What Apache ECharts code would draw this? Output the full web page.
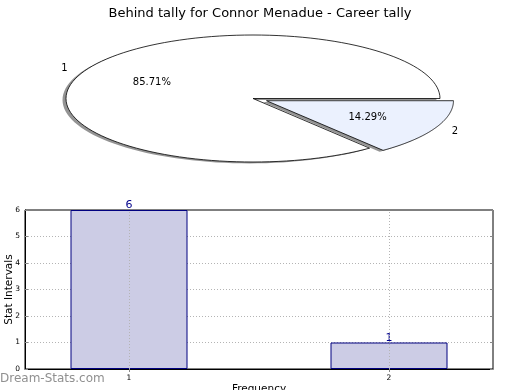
<!DOCTYPE html>
<html>
<head>
<meta charset="utf-8">
<script src="https://cdn.jsdelivr.net/npm/echarts@6/dist/echarts.min.js"></script>
<style>
html,body{margin:0;padding:0;background:#fff;}
#c{width:520px;height:390px;}
</style>
</head>
<body>
<div id="c"></div>
<script>
// ---- data ----
const chartTitle = 'Behind tally for Connor Menadue - Career tally';
const pieLabels = ['1', '2'];
const pieValues = [6, 1];
const barCategories = [1, 2];
const barValues = [6, 1];
const watermark = 'Dream-Stats.com';
const xAxisName = 'Frequency';
const yAxisName = 'Stat Intervals';

// ---- styles ----
const FONT = 'DejaVu Sans';
const sliceColors = ['#ffffff', '#ebf1fe'];
const explode = [0, 0.08];
const PIE = { cx: 253, cy: 98.5, rx: 187, ry: 63.5 };

const total = pieValues.reduce((a, b) => a + b, 0);

function renderSlice(params, api) {
  const i = params.dataIndex;
  const v = api.value(0);
  let before = 0;
  for (let k = 0; k < i; k++) before += pieValues[k];
  const a0 = before / total * Math.PI * 2;
  const a1 = (before + v) / total * Math.PI * 2;
  const mid = (a0 + a1) / 2;
  const ox = PIE.cx + explode[i] * PIE.rx * Math.cos(mid);
  const oy = PIE.cy - explode[i] * PIE.ry * Math.sin(mid);
  const pts = [[ox, oy]];
  const N = 120;
  for (let s = 0; s <= N; s++) {
    const a = a0 + (a1 - a0) * s / N;
    pts.push([ox + PIE.rx * Math.cos(a), oy - PIE.ry * Math.sin(a)]);
  }
  const shadowPts = pts.map(p => [p[0] - 3.5, p[1] + 1.4]);
  const c = Math.cos(mid), sn = Math.sin(mid);
  return {
    type: 'group',
    children: [
      { type: 'polygon', shape: { points: shadowPts }, style: { fill: 'rgba(0,0,0,0.42)' }, silent: true },
      { type: 'polygon', shape: { points: pts }, style: { fill: sliceColors[i], stroke: '#000', lineWidth: 0.8 } },
      { type: 'text', style: {
          x: ox + 1.1 * PIE.rx * c, y: oy - 1.1 * PIE.ry * sn,
          text: pieLabels[i], fill: '#000', font: '10px "' + FONT + '"',
          align: c > 0 ? 'left' : 'right', verticalAlign: 'middle' } },
      { type: 'text', style: {
          x: ox + 0.6 * PIE.rx * c, y: oy - 0.6 * PIE.ry * sn,
          text: (v / total * 100).toFixed(2) + '%', fill: '#000', font: '10px "' + FONT + '"',
          align: 'center', verticalAlign: 'middle' } }
    ]
  };
}

const chart = echarts.init(document.getElementById('c'), null, { renderer: 'canvas' });
const option = {
  animation: false,
  backgroundColor: '#fff',
  textStyle: { fontFamily: FONT },
  title: {
    text: chartTitle, left: 'center', top: 2,
    textStyle: { fontFamily: FONT, fontSize: 13, fontWeight: 'normal', color: '#000' }
  },
  graphic: [{
    type: 'text', left: 0, top: 373,
    style: { text: watermark, fill: '#909090', font: '12px "' + FONT + '"' }
  }],
  grid: {
    left: 25, right: 27, top: 210, bottom: 21,
    containLabel: false, outerBoundsMode: 'none',
    show: true, borderColor: '#000', borderWidth: 1, backgroundColor: 'transparent'
  },
  xAxis: [{
    type: 'value', min: 0.6, max: 2.4,
    name: xAxisName, nameLocation: 'middle', nameGap: 15, nameMoveOverlap: false,
    nameTextStyle: { fontFamily: FONT, fontSize: 10.5, color: '#000' },
    axisLine: { show: true, lineStyle: { color: '#000' } },
    axisTick: { show: true, inside: true, length: 3, customValues: barCategories, lineStyle: { color: '#888' } },
    axisLabel: { customValues: barCategories, fontSize: 7.5, color: '#000', margin: 5, fontFamily: FONT },
    splitLine: { show: false }
  }, {
    type: 'value', min: 0.6, max: 2.4, position: 'top',
    axisLine: { show: false },
    axisTick: { show: true, inside: true, length: 3, customValues: barCategories, lineStyle: { color: '#888' } },
    axisLabel: { show: false },
    splitLine: { show: false }
  }],
  yAxis: [{
    type: 'value', min: 0, max: 6, interval: 1,
    name: yAxisName, nameLocation: 'middle', nameGap: 10, nameRotate: 90, nameMoveOverlap: false,
    nameTextStyle: { fontFamily: FONT, fontSize: 10.5, color: '#000' },
    axisLine: { show: true, lineStyle: { color: '#000' } },
    axisTick: { show: true, inside: true, length: 3, lineStyle: { color: '#888' } },
    axisLabel: { fontSize: 7.5, color: '#000', margin: 5, fontFamily: FONT },
    splitLine: { show: true, showMinLine: false, showMaxLine: false,
      lineStyle: { color: '#b4b4b4', type: [1, 2], width: 1 } }
  }, {
    type: 'value', min: 0, max: 6, interval: 1, position: 'right',
    axisLine: { show: false },
    axisTick: { show: true, inside: true, length: 3, lineStyle: { color: '#888' } },
    axisLabel: { show: false },
    splitLine: { show: false }
  }],
  series: [{
    type: 'custom',
    coordinateSystem: 'none',
    renderItem: renderSlice,
    data: pieValues.map(v => [v]),
    z: 5
  }, {
    type: 'bar',
    xAxisIndex: 0, yAxisIndex: 0,
    data: barCategories.map((c, i) => [c, barValues[i]]),
    barWidth: 117,
    itemStyle: { color: '#ccccE5', borderColor: '#000080', borderWidth: 1 },
    label: { show: true, position: 'top', distance: -1, color: '#00008b', fontSize: 11, fontFamily: FONT },
    markLine: {
      silent: true, symbol: 'none', label: { show: false },
      lineStyle: { color: '#b4b4b4', type: [1, 2], width: 1 },
      data: barCategories.map(c => ({ xAxis: c }))
    },
    z: 2
  }]
};
chart.setOption(option);
</script>
</body>
</html>
